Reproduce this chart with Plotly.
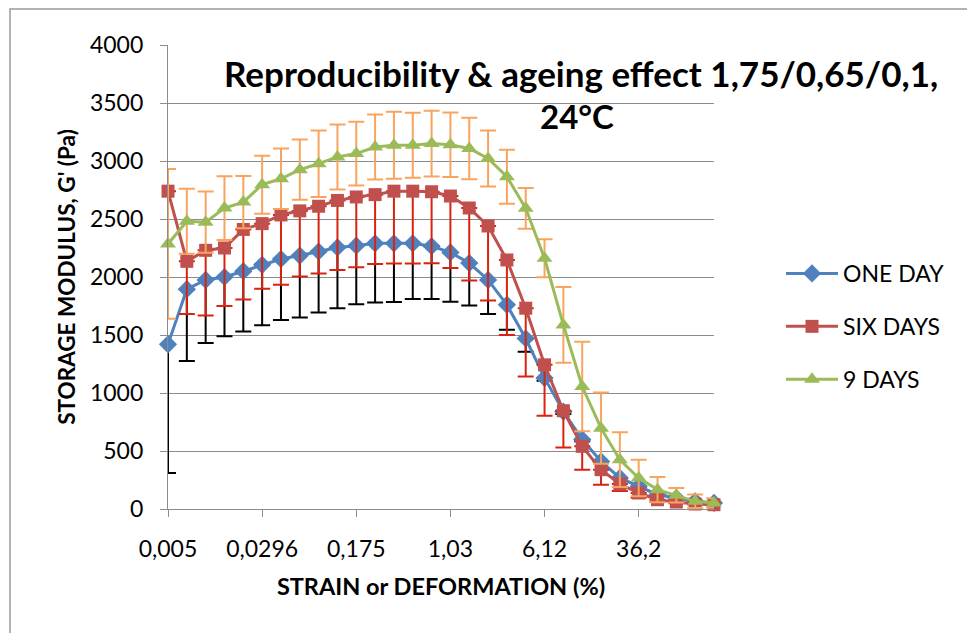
import plotly.graph_objects as go

# Strain categories (%), category axis, labels shown every 5th
strain = ["0,005", "0,00712", "0,0101", "0,0145", "0,0207", "0,0296", "0,0422", "0,0602",
          "0,0858", "0,122", "0,175", "0,249", "0,355", "0,506", "0,723", "1,03", "1,47",
          "2,1", "3", "4,28", "6,12", "8,73", "12,5", "17,8", "25,4", "36,2", "51,7",
          "73,7", "105", "150"]
tick_labels = ["0,005", "0,0296", "0,175", "1,03", "6,12", "36,2"]

one_day = [1420, 1895, 1975, 2000, 2050, 2105, 2155, 2185, 2220, 2255, 2270, 2290, 2290,
           2290, 2265, 2212, 2120, 1975, 1760, 1470, 1130, 840, 600, 410, 268, 195, 123,
           95, 66, 52]
one_day_err = [1110, 620, 545, 510, 520, 520, 525, 535, 525, 525, 505, 510, 505, 480, 455,
               425, 365, 295, 215, 115, 25, 20, 15, 10, 5, 5, 5, 5, 5, 5]

six_days = [2740, 2135, 2230, 2250, 2410, 2460, 2535, 2570, 2610, 2660, 2690, 2710, 2740,
            2740, 2735, 2698, 2595, 2440, 2147, 1731, 1243, 847, 540, 339, 215, 138, 80,
            60, 43, 37]
six_days_err = [0, 453, 562, 499, 605, 562, 602, 565, 579, 599, 605, 599, 623, 623, 617, 620,
                625, 643, 647, 589, 439, 316, 201, 129, 60, 40, 20, 10, 5, 5]

nine_days = [2285, 2481, 2473, 2594, 2646, 2796, 2847, 2925, 2977, 3035, 3064, 3121, 3136,
             3136, 3150, 3140, 3108, 3022, 2864, 2592, 2161, 1587, 1056, 697, 425, 267, 167,
             118, 66, 52]
nine_days_err = [645, 280, 265, 275, 225, 250, 260, 260, 287, 280, 275, 280, 289, 280, 283,
                 279, 265, 242, 233, 175, 164, 326, 385, 307, 236, 158, 109, 63, 58, 40]

FONT = "Lato"
W, H = 967, 633
ML, MR, MT, MB = 168, 253, 45, 124
PW, PH = W - ML - MR, H - MT - MB


def px_x(p):
    return (p - ML) / PW


def px_y(p):
    return (H - MB - p) / PH


fig = go.Figure()

fig.add_trace(go.Scatter(
    x=strain, y=one_day, name="ONE DAY", mode="lines+markers",
    line=dict(color="#4F81BD", width=3),
    marker=dict(symbol="diamond", size=14, color="#4F81BD"),
    error_y=dict(type="data", symmetric=False, array=[0] * len(one_day_err),
                 arrayminus=one_day_err, color="#000000", thickness=2, width=8),
    cliponaxis=False, legendgroup="a"))

fig.add_trace(go.Scatter(
    x=strain, y=six_days, name="SIX DAYS", mode="lines+markers",
    line=dict(color="#C0504D", width=3),
    marker=dict(symbol="square", size=13, color="#C0504D"),
    error_y=dict(type="data", symmetric=False, array=[0] * len(six_days_err),
                 arrayminus=six_days_err, color="#D9230F", thickness=2, width=8),
    cliponaxis=False, legendgroup="b"))

fig.add_trace(go.Scatter(
    x=strain, y=nine_days, name="9 DAYS", mode="lines+markers",
    line=dict(color="#9BBB59", width=3),
    marker=dict(symbol="triangle-up", size=14, color="#9BBB59"),
    error_y=dict(type="data", array=nine_days_err, color="#F9A45E", thickness=2, width=8),
    cliponaxis=False, legendgroup="c"))

fig.update_layout(
    width=W, height=H,
    margin=dict(l=ML, r=MR, t=MT, b=MB),
    paper_bgcolor="white", plot_bgcolor="white",
    font=dict(family=FONT, size=23, color="black"),
    showlegend=True,
    legend=dict(x=px_x(781), y=px_y(252), xanchor="left", yanchor="top",
                font=dict(family=FONT, size=23, color="black"),
                itemwidth=52, traceorder="grouped", tracegroupgap=20,
                bgcolor="rgba(0,0,0,0)"),
    xaxis=dict(type="category", categoryorder="array", categoryarray=strain,
               range=[0, len(strain) - 1],
               tickmode="array", tickvals=tick_labels, ticktext=tick_labels,
               ticks="outside", ticklen=7, tickcolor="#8c8c8c", tickwidth=1.3,
               showline=True, linecolor="#8c8c8c", linewidth=1.3,
               showgrid=False, zeroline=False, ticklabelstandoff=12,
               title=dict(text="<b>STRAIN or DEFORMATION (%)</b>", standoff=17,
                          font=dict(family=FONT, size=23.5, color="black"))),
    yaxis=dict(range=[0, 4000], dtick=500, tick0=0,
               ticks="outside", ticklen=7, tickcolor="#8c8c8c", tickwidth=1.3,
               showline=True, linecolor="#8c8c8c", linewidth=1.3,
               showgrid=True, gridcolor="#8c8c8c", gridwidth=1.3, zeroline=False,
               ticklabelstandoff=12,
               title=dict(text="<b>STORAGE MODULUS, G' (Pa)</b>", standoff=8,
                          font=dict(family=FONT, size=22.5, color="black"))),
    shapes=[dict(type="rect", xref="paper", yref="paper", layer="below",
                 x0=px_x(10), x1=px_x(990), y0=px_y(660), y1=px_y(9),
                 line=dict(color="#9a9a9a", width=1.5), fillcolor="rgba(0,0,0,0)")],
    annotations=[
        dict(text="<b>Reproducibility &amp; ageing effect 1,75/0,65/0,1,</b>",
             xref="paper", yref="paper", x=px_x(581), y=px_y(73),
             xanchor="center", yanchor="middle", showarrow=False,
             font=dict(family=FONT, size=35, color="black")),
        dict(text="<b>24°C</b>", xref="paper", yref="paper", x=px_x(577), y=px_y(116),
             xanchor="center", yanchor="middle", showarrow=False,
             font=dict(family=FONT, size=33, color="black")),
    ],
)

fig.write_html("out.html")
